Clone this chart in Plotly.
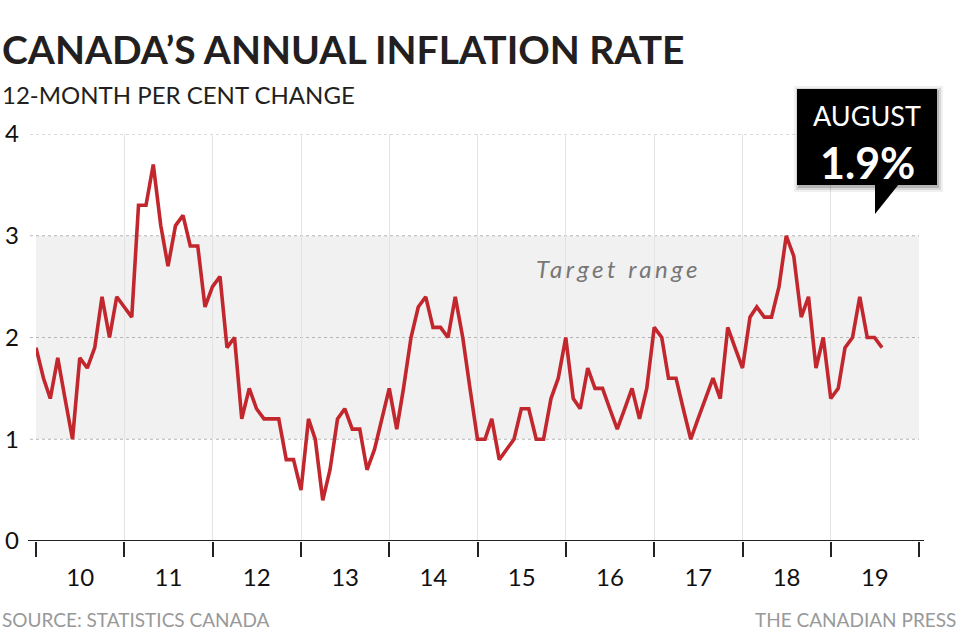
import pandas as pd
import plotly.graph_objects as go

# ---- data ----
start_month = "2010-01-01"
inflation = [
    1.9, 1.6, 1.4, 1.8, 1.4, 1.0, 1.8, 1.7, 1.9, 2.4, 2.0, 2.4,   # 2010
    2.3, 2.2, 3.3, 3.3, 3.7, 3.1, 2.7, 3.1, 3.2, 2.9, 2.9, 2.3,   # 2011
    2.5, 2.6, 1.9, 2.0, 1.2, 1.5, 1.3, 1.2, 1.2, 1.2, 0.8, 0.8,   # 2012
    0.5, 1.2, 1.0, 0.4, 0.7, 1.2, 1.3, 1.1, 1.1, 0.7, 0.9, 1.2,   # 2013
    1.5, 1.1, 1.5, 2.0, 2.3, 2.4, 2.1, 2.1, 2.0, 2.4, 2.0, 1.5,   # 2014
    1.0, 1.0, 1.2, 0.8, 0.9, 1.0, 1.3, 1.3, 1.0, 1.0, 1.4, 1.6,   # 2015
    2.0, 1.4, 1.3, 1.7, 1.5, 1.5, 1.3, 1.1, 1.3, 1.5, 1.2, 1.5,   # 2016
    2.1, 2.0, 1.6, 1.6, 1.3, 1.0, 1.2, 1.4, 1.6, 1.4, 2.1, 1.9,   # 2017
    1.7, 2.2, 2.3, 2.2, 2.2, 2.5, 3.0, 2.8, 2.2, 2.4, 1.7, 2.0,   # 2018
    1.4, 1.5, 1.9, 2.0, 2.4, 2.0, 2.0, 1.9,                       # 2019
]
months = pd.date_range(start_month, periods=len(inflation), freq="MS")
y_ticks = [0, 1, 2, 3, 4]
target_low, target_high = 1, 3
x_range = ["2010-01-01", "2020-01-01"]
title = "CANADA’S ANNUAL INFLATION RATE"
subtitle = "12-MONTH PER CENT CHANGE"
source = "SOURCE: STATISTICS CANADA"
credit = "THE CANADIAN PRESS"
target_label = "Target range"
callout_month = "AUGUST"
callout_value = "1.9%"

# ---- layout geometry (pixels) ----
W, H = 960, 637
L, R, T, B = 36, 919, 134, 541
FONT = "Lato"


def px(x):
    return (x - L) / (R - L)


def py(y):
    return (B - y) / (B - T)


fig = go.Figure()
fig.add_trace(go.Scatter(
    x=months, y=inflation, mode="lines",
    line=dict(color="#c1272d", width=3.6),
    hoverinfo="x+y", showlegend=False,
))

shapes = []
# target band
shapes.append(dict(type="rect", xref="paper", yref="y", x0=0, x1=1,
                   y0=target_low, y1=target_high, fillcolor="#f1f1f1",
                   line_width=0, layer="below"))
# dotted horizontal gridlines
for v in y_ticks[1:]:
    shapes.append(dict(type="line", xref="paper", yref="y", x0=px(30), x1=1,
                       y0=v, y1=v, line=dict(color="#b5b5b5", width=1.2, dash="dot"),
                       layer="below"))
# baseline axis
shapes.append(dict(type="line", xref="paper", yref="y", x0=px(28), x1=px(924),
                   y0=0, y1=0, line=dict(color="#222", width=2.2)))

# callout shadow + box + pointer
for off, a in [(6, 0.06), (4, 0.10), (2, 0.16)]:
    shapes.append(dict(type="rect", xref="paper", yref="paper",
                       x0=px(797 - off + 3), x1=px(937 + off),
                       y0=py(185 + off + 1), y1=py(89 - off + 3),
                       fillcolor=f"rgba(0,0,0,{a})", line_width=0))
shapes.append(dict(type="rect", xref="paper", yref="paper",
                   x0=px(797), x1=px(937), y0=py(185), y1=py(89),
                   fillcolor="#000", line_width=0))
shapes.append(dict(type="path", xref="paper", yref="paper",
                   path=f"M {px(875)},{py(184)} L {px(899)},{py(184)} L {px(875)},{py(214)} Z",
                   fillcolor="#000", line_width=0))

annotations = [
    dict(text=f"<b>{title}</b>", x=px(0), y=py(49), xanchor="left", yanchor="middle",
         font=dict(family=FONT, size=39, color="#231f20")),
    dict(text=subtitle, x=px(0), y=py(94), xanchor="left", yanchor="middle",
         font=dict(family=FONT, size=24, color="#231f20")),
    dict(text=source, x=px(0), y=py(619), xanchor="left", yanchor="middle",
         font=dict(family=FONT, size=19, color="#999999")),
    dict(text=credit, x=px(958), y=py(619), xanchor="right", yanchor="middle",
         font=dict(family=FONT, size=19, color="#999999")),
    dict(text=f'<span style="letter-spacing:3.5px">{target_label}</span>',
         x=px(618), y=py(268), xanchor="center", yanchor="middle",
         font=dict(family=FONT, size=24, color="#777777", style="italic")),
    dict(text=callout_month, x=px(867), y=py(116), xanchor="center", yanchor="middle",
         font=dict(family=FONT, size=27, color="#ffffff")),
    dict(text=f"<b>{callout_value}</b>", x=px(867), y=py(162), xanchor="center", yanchor="middle",
         font=dict(family=FONT, size=43, color="#ffffff")),
]
for a in annotations:
    a.update(xref="paper", yref="paper", showarrow=False)

fig.update_layout(
    width=W, height=H,
    margin=dict(l=L, r=W - R, t=T, b=H - B, autoexpand=False),
    paper_bgcolor="white", plot_bgcolor="white",
    shapes=shapes, annotations=annotations,
    font=dict(family=FONT, color="#111"),
    showlegend=False,
)
fig.update_xaxes(
    type="date", range=x_range, dtick="M12", tick0="2010-01-01",
    tickformat="%y", ticklabelmode="period",
    showgrid=True, gridcolor="#e3e3e3", gridwidth=1.2,
    ticks="outside", ticklen=15, tickwidth=1.6, tickcolor="#222",
    tickfont=dict(size=24, color="#111"), showline=False, zeroline=False,
    fixedrange=True, automargin=False,
)
fig.update_yaxes(
    range=[0, 4], tickvals=y_ticks, showgrid=False, zeroline=False,
    showline=False, ticks="", ticklabelstandoff=16,
    tickfont=dict(size=24, color="#111"), fixedrange=True, automargin=False,
)

fig.write_html("out.html", config={"displayModeBar": False})
